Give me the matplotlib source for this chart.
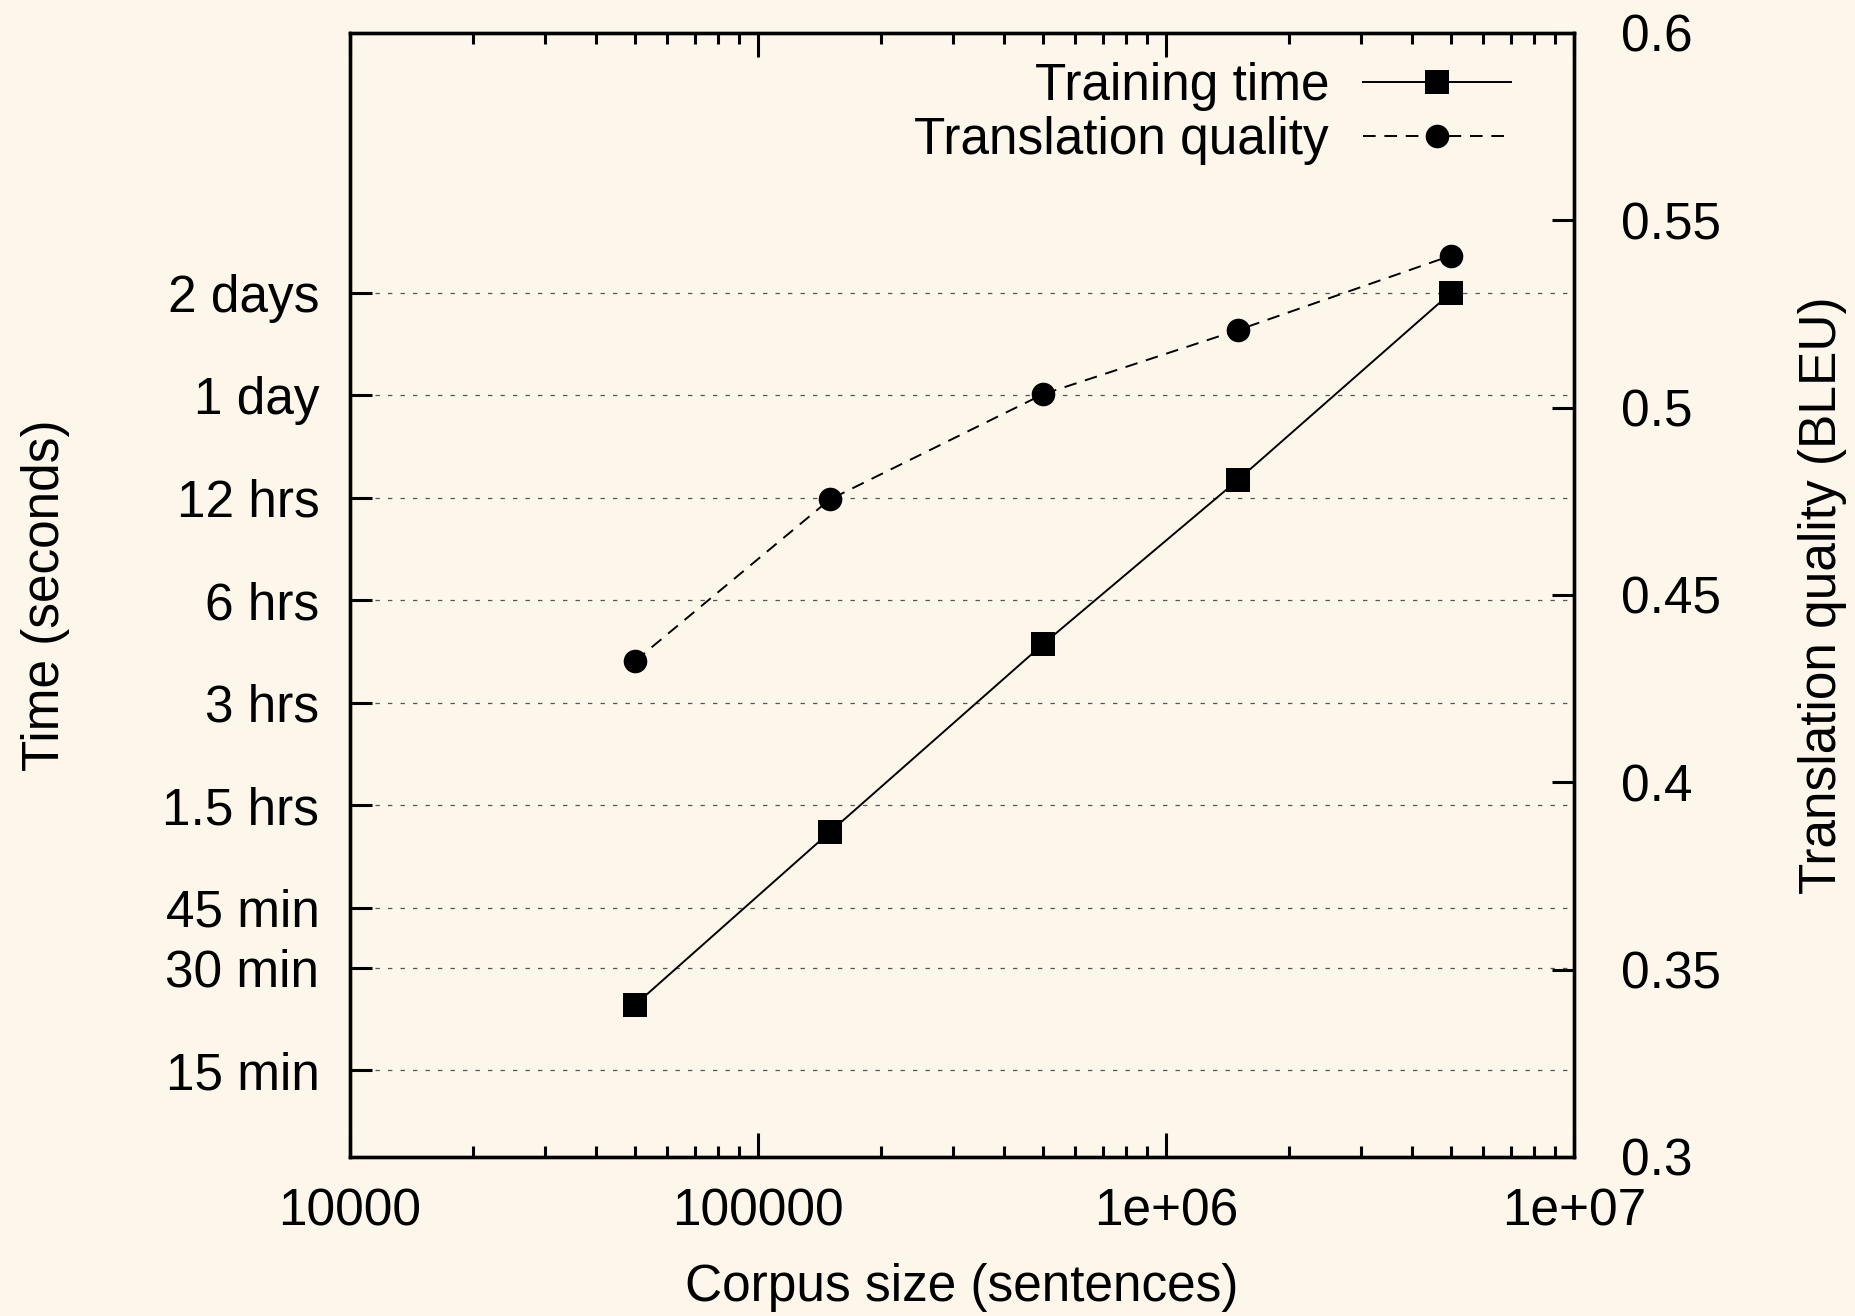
import matplotlib
matplotlib.use("Agg")
import matplotlib.pyplot as plt
from matplotlib.ticker import FixedLocator, NullLocator, LogLocator, NullFormatter

plt.rcParams["font.family"] = ["Liberation Sans", "DejaVu Sans"]

# datos
corpus_size = [50000, 150000, 500000, 1500000, 5000000]
train_time = [1400, 4500, 16050, 48660, 172800]          # segundos
bleu = [0.4324, 0.4755, 0.5036, 0.5207, 0.5406]

time_ticks = [900, 1800, 2700, 5400, 10800, 21600, 43200, 86400, 172800]
time_labels = ["15 min", "30 min", "45 min", "1.5 hrs", "3 hrs", "6 hrs",
               "12 hrs", "1 day", "2 days"]
x_ticks = [1e4, 1e5, 1e6, 1e7]
x_labels = ["10000", "100000", "1e+06", "1e+07"]
bleu_ticks = [0.3, 0.35, 0.4, 0.45, 0.5, 0.55, 0.6]
bleu_labels = ["0.3", "0.35", "0.4", "0.45", "0.5", "0.55", "0.6"]

bg = "#fdf7eb"
fs = 37

fig = plt.figure(figsize=(18.55, 13.16), dpi=100, facecolor=bg)
ax = fig.add_axes([350 / 1855, 1 - 1157 / 1316, 1224 / 1855, 1124 / 1316])
ax.set_facecolor(bg)
ax2 = ax.twinx()

# Tiempo de entrenamiento (eje izquierdo, log)
l1, = ax.plot(corpus_size, train_time, color="black", lw=1.4, marker="s",
              markersize=17, markeredgewidth=0, label="Training time")
# Calidad (eje derecho)
l2, = ax2.plot(corpus_size, bleu, color="black", lw=1.4, linestyle=(0, (6.5, 4.5)),
               marker="o", markersize=17, markeredgewidth=0,
               label="Translation quality")

ax.set_xscale("log")
ax.set_yscale("log")
ax.set_xlim(1e4, 1e7)
ax.set_ylim(500, 1e6)
ax2.set_ylim(0.3, 0.6)

# ticks eje x
ax.xaxis.set_major_locator(FixedLocator(x_ticks))
ax.set_xticklabels(x_labels)
ax.xaxis.set_minor_locator(LogLocator(base=10, subs=range(2, 10)))
ax.xaxis.set_minor_formatter(NullFormatter())
ax.tick_params(axis="x", which="major", direction="in", length=17, width=2.2,
               top=True, labelsize=fs, pad=22)
ax.tick_params(axis="x", which="minor", direction="in", length=8, width=2.2,
               top=True)

# ticks eje y izquierdo
ax.yaxis.set_major_locator(FixedLocator(time_ticks))
ax.set_yticklabels(time_labels)
ax.yaxis.set_minor_locator(NullLocator())
ax.tick_params(axis="y", which="major", direction="in", length=16, width=2.2,
               right=False, labelsize=fs, pad=22)
ax.grid(True, axis="y", which="major", color="#555555", lw=0.9,
        linestyle=(0, (3.5, 6.5)))

# ticks eje y derecho
ax2.yaxis.set_major_locator(FixedLocator(bleu_ticks))
ax2.set_yticklabels(bleu_labels)
ax2.yaxis.set_minor_locator(NullLocator())
ax2.tick_params(axis="y", which="major", direction="in", length=16, width=2.2,
                labelsize=fs, pad=34)

for a in (ax, ax2):
    for s in a.spines.values():
        s.set_linewidth(2.4)

# etiquetas de ejes
ax.set_xlabel("Corpus size (sentences)", fontsize=fs, va="center")
ax.xaxis.set_label_coords(0.5, -0.1157)
ax.set_ylabel("Time (seconds)", fontsize=fs, va="center")
ax.yaxis.set_label_coords(-0.2484, 0.5)
ax2.set_ylabel("Translation quality (BLEU)", fontsize=fs, va="center")
ax2.yaxis.set_label_coords(1.2034, 0.5)

# leyenda
ax2.legend([l1, l2], ["Training time", "Translation quality"], loc="upper right",
           bbox_to_anchor=(0.9485, 0.9740), frameon=False, markerfirst=False,
           fontsize=fs, handlelength=2.88, handletextpad=0.66, borderpad=0,
           borderaxespad=0, labelspacing=0.1)

fig.savefig("out.png", dpi=100, facecolor=bg)
